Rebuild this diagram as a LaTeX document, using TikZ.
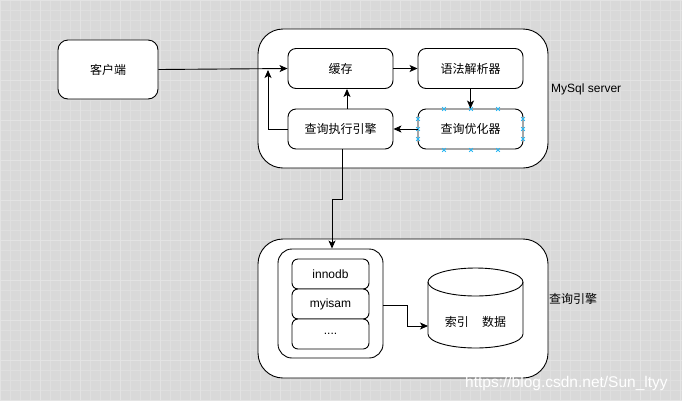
\documentclass[tikz,border=0pt]{standalone}
\usepackage{fontspec}
\setmainfont{Liberation Sans}
\newfontfamily\cjk{Noto Sans CJK SC}
\usetikzlibrary{arrows.meta}
\definecolor{bggray}{HTML}{D9D9D9}
\definecolor{gridgray}{HTML}{DFDFDF}
\definecolor{gridmajor}{HTML}{E3E3E3}
\definecolor{handle}{HTML}{29B6F2}
\begin{document}
\begin{tikzpicture}[x=1pt,y=-1pt,
  every node/.style={font=\cjk\fontsize{12}{14}\selectfont, inner sep=0pt},
  box/.style={draw=black, fill=white, line width=0.9pt, rounded corners=8pt, minimum width=105pt, minimum height=40pt},
  bigbox/.style={draw=black, fill=white, line width=0.9pt, rounded corners=25pt, minimum width=290pt, minimum height=139pt},
  innerbox/.style={draw=black, fill=white, line width=0.9pt, rounded corners=14pt, minimum width=105pt, minimum height=109pt},
  enginebox/.style={draw=black, fill=white, line width=0.9pt, rounded corners=6pt, minimum width=77pt, minimum height=30pt, font=\fontsize{12}{14}\selectfont},
  conn/.style={draw=black, line width=0.9pt, -{Stealth[length=8pt,width=7pt,inset=2pt]}},
  lbl/.style={anchor=west, font=\fontsize{12}{14}\selectfont},
  hx/.style={handle, line width=0.8pt}
]
\useasboundingbox (0,0) rectangle (682,400);
\fill[bggray] (0,0) rectangle (682,400);
\draw[gridgray, line width=0.6pt, step=10pt] (-1,-1) grid (682,400);
\draw[gridmajor, line width=0.8pt, step=40pt] (-1,-1) grid (682,400);

% containers
\node[bigbox] (server) at (403,98.5) {};
\node[bigbox] (engines) at (403,308.5) {};
\node[lbl] (serverlbl) at (551,89) {MySql server};
\node[lbl, font=\cjk\fontsize{12}{14}\selectfont] (enginelbl) at (549,299) {查询引擎};

% top nodes
\node[box, minimum width=100pt, minimum height=59pt, rounded corners=10pt] (client) at (108,69.5) {客户端};
\node[box] (cache) at (340.5,68.5) {缓存};
\node[box] (parser) at (470.5,68.5) {语法解析器};
\node[box] (optim) at (470.5,129) {查询优化器};
\node[box] (exec) at (340.5,129) {查询执行引擎};

% handles
\foreach \hxx/\hyy in {444/109,471/109,498/109,444/150,471/150,498/150,418/119,418/129,418/139,523/119,523/129,523/139}{
  \draw[hx] (\hxx-1.8,\hyy-1.8) -- (\hxx+1.8,\hyy+1.8) (\hxx-1.8,\hyy+1.8) -- (\hxx+1.8,\hyy-1.8);
}

% connectors top
\draw[conn] (client.east) -- (cache.west);
\draw[conn] (cache.east) -- (parser.west);
\draw[conn] (parser.south) -- (optim.north);
\draw[conn] (optim.west) -- (exec.west -| exec.east);
\draw[conn] (exec.north -| 347,0) -- (cache.south -| 347,0);
\coordinate (backtip) at (268,70);
\draw[conn] (exec.west) -- (exec.west -| backtip) -- (backtip);

% lower
\node[innerbox] (inner) at (330.5,303.5) {};
\node[enginebox] (innodb) at (330.5,274) {innodb};
\node[enginebox] (myisam) at (330.5,304) {myisam};
\node[enginebox] (dots) at (330.5,334) {....};

\draw[conn] (exec.south -| 342,0) -- (342,199) -- (332,199) -- (inner.north -| 332,0);

% cylinder
\draw[black, fill=white, line width=0.9pt]
  (428,282) -- (428,334) arc[start angle=180, end angle=360, x radius=47.5pt, y radius=14pt]
  -- (523,282) arc[start angle=0, end angle=180, x radius=47.5pt, y radius=14pt] -- cycle;
\draw[black, line width=0.9pt] (428,282) arc[start angle=180, end angle=360, x radius=47.5pt, y radius=14pt];
\coordinate (dbleft) at (428,326);
\node (dbtext) at (475.5,322) {索引\hspace{1.1em}数据};

\draw[conn] (inner.east |- 0,305) -- (407,305) -- (407,326) -- (dbleft);

% watermark
\node[anchor=west, text=white, font=\fontsize{15.5}{17}\selectfont] (wm) at (465,383) {https://blog.csdn.net/Sun\_ltyy};
\end{tikzpicture}
\end{document}
